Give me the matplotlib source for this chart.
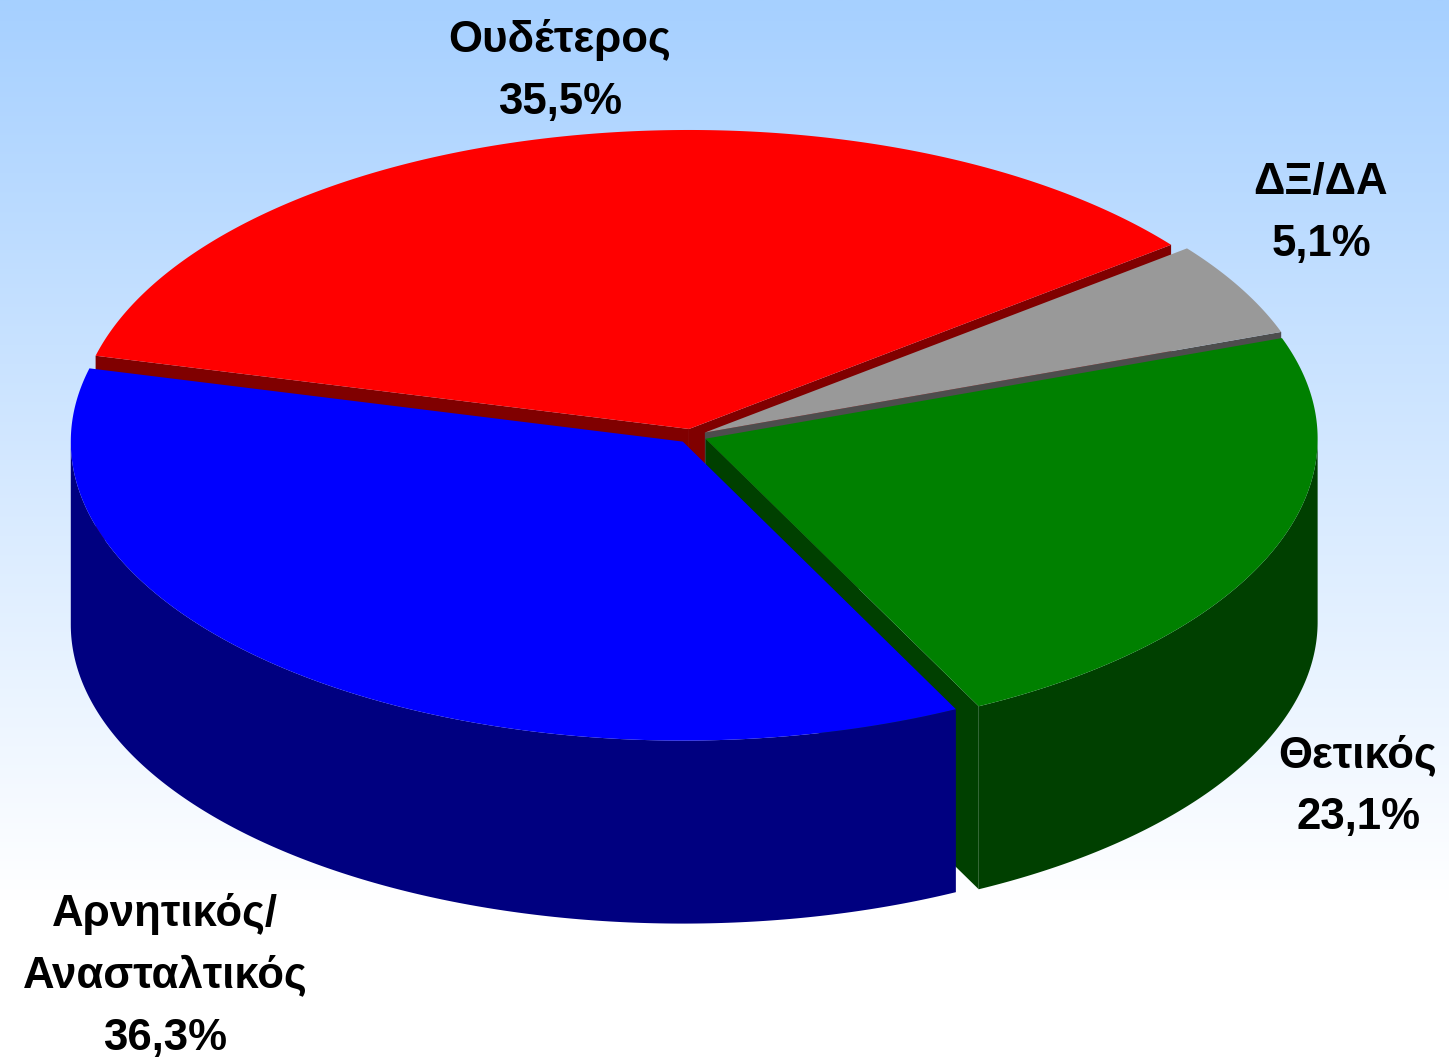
import numpy as np
import matplotlib
matplotlib.use("Agg")
import matplotlib.pyplot as plt
from matplotlib import colors
from matplotlib.patches import Polygon

# data (counter-clockwise from the green/blue boundary)
labels = ["Θετικός", "ΔΞ/ΔΑ", "Ουδέτερος", "Αρνητικός/\nΑνασταλτικός"]
values = [23.1, 5.1, 35.5, 36.3]
top_colors = ["#008000", "#999999", "#ff0000", "#0000ff"]
side_colors = ["#004000", "#4d4d4d", "#800000", "#000080"]

W, H = 1449, 1063
CX, CY = 692, 436      # centre of the top face, px
RX, RY = 612, 299      # ellipse radii, px
DEPTH = 183            # height of the cake, px
START = -63.5          # degrees
EXPLODE = 0.024

# label anchor (centre x, baseline of first line) and line step
label_pos = [(1358, 767), (1321, 194), (560, 52), (165, 926)]
LINE_STEP = 62

fig = plt.figure(figsize=(W / 100, H / 100), dpi=100)
ax = fig.add_axes((0, 0, 1, 1))
ax.set_xlim(0, W)
ax.set_ylim(H, 0)
ax.axis("off")

# background: light blue at the top fading to white
top_rgb = np.array(colors.to_rgb("#a6d0ff"))
t = np.clip(np.linspace(0, H, 400) / 900.0, 0, 1)[:, None]
grad = top_rgb * (1 - t) + np.ones(3) * t
ax.imshow(grad[:, None, :], extent=(0, W, H, 0), aspect="auto", zorder=0)


def pt(theta, off, dz=0.0):
    return np.column_stack([CX + off[0] + RX * np.cos(theta),
                            CY + off[1] - RY * np.sin(theta) + dz])


fracs = np.array(values) / np.sum(values)
edges = np.deg2rad(START + 360 * np.concatenate([[0], np.cumsum(fracs)]))

slices = []
for i in range(len(values)):
    a, b = edges[i], edges[i + 1]
    mid = (a + b) / 2
    off = (EXPLODE * RX * np.cos(mid), -EXPLODE * RY * np.sin(mid))
    slices.append((a, b, mid, off))

# back slices first
order = sorted(range(len(values)), key=lambda i: np.sin(slices[i][2]), reverse=True)

# radial cut faces
for i in order:
    a, b, mid, off = slices[i]
    c = np.array([CX + off[0], CY + off[1]])
    for ang, visible in ((a, np.cos(a) > 0), (b, np.cos(b) < 0)):
        if not visible:
            continue
        e = pt(np.array([ang]), off)[0]
        poly = [c, e, e + [0, DEPTH], c + [0, DEPTH]]
        ax.add_patch(Polygon(poly, closed=True, fc=side_colors[i], lw=0, zorder=2))

# outer walls (front half only)
for i in order:
    a, b, mid, off = slices[i]
    lo = a % (2 * np.pi)
    hi = lo + (b - a)
    # visible where sin < 0, i.e. angle in (pi, 2pi) mod 2pi
    for k in (-1, 0, 1):
        s = max(lo, np.pi + 2 * np.pi * k)
        e = min(hi, 2 * np.pi + 2 * np.pi * k)
        if e <= s:
            continue
        th = np.linspace(s, e, 200)
        upper = pt(th, off)
        lower = pt(th[::-1], off, DEPTH)
        ax.add_patch(Polygon(np.vstack([upper, lower]), closed=True,
                             fc=side_colors[i], lw=0, zorder=3))

# top faces
for i in order:
    a, b, mid, off = slices[i]
    th = np.linspace(a, b, 300)
    c = np.array([[CX + off[0], CY + off[1]]])
    poly = np.vstack([c, pt(th, off)])
    ax.add_patch(Polygon(poly, closed=True, fc=top_colors[i], lw=0, zorder=4))

# labels
font = dict(family=["Liberation Sans", "DejaVu Sans"], fontweight="bold",
            fontsize=31.5, color="black", ha="center", va="baseline", zorder=5)
for lab, v, (x, y) in zip(labels, values, label_pos):
    lines = lab.split("\n") + [f"{v:.1f}%".replace(".", ",")]
    for j, line in enumerate(lines):
        ax.text(x, y + j * LINE_STEP, line, **font)

fig.savefig("out.png", dpi=100)
